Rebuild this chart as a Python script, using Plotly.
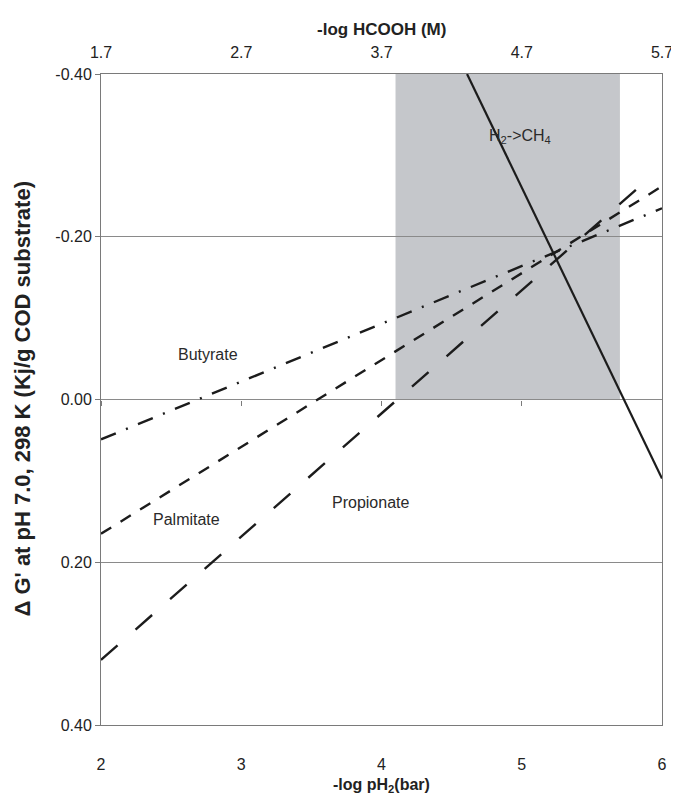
import plotly.graph_objects as go

# ---- data ----
x_h2ch4 = [4.61, 6.0]
y_h2ch4 = [-0.40, 0.097]

x_butyrate = [2.0, 6.0]
y_butyrate = [0.049, -0.235]

x_palmitate = [2.0, 6.0]
y_palmitate = [0.165, -0.262]

x_propionate = [2.0, 5.85]
y_propionate = [0.320, -0.263]

shade_x = [4.1, 5.7]
shade_y = [-0.40, 0.00]

bottom_ticks = [2, 3, 4, 5, 6]
top_ticks = [1.7, 2.7, 3.7, 4.7, 5.7]
top_ticktext = ["1.7", "2.7", "3.7", "4.7", "5.7"]
y_ticks = [-0.40, -0.20, 0.00, 0.20, 0.40]
y_ticktext = ["-0.40", "-0.20", "0.00", "0.20", "0.40"]

labels = ["H<sub>2</sub>->CH<sub>4</sub>", "Butyrate", "Palmitate", "Propionate"]
label_x = [4.99, 2.76, 2.61, 3.92]
label_y = [-0.323, -0.055, 0.148, 0.127]

FONT = "Liberation Sans, Arial, sans-serif"
LINE = "#1c1c1c"
AX = "#7a7a7a"

fig = go.Figure()

fig.add_trace(go.Scatter(x=x_butyrate, y=y_butyrate, mode="lines",
                         line=dict(color=LINE, width=2.4, dash="16px,11px,2px,11px"),
                         showlegend=False, hoverinfo="skip"))
fig.add_trace(go.Scatter(x=x_palmitate, y=y_palmitate, mode="lines",
                         line=dict(color=LINE, width=2.4, dash="12px,11px"),
                         showlegend=False, hoverinfo="skip"))
fig.add_trace(go.Scatter(x=x_propionate, y=y_propionate, mode="lines",
                         line=dict(color=LINE, width=2.4, dash="22px,24px"),
                         showlegend=False, hoverinfo="skip"))
fig.add_trace(go.Scatter(x=x_h2ch4, y=y_h2ch4, mode="lines",
                         line=dict(color=LINE, width=2.2),
                         showlegend=False, hoverinfo="skip"))
# empty traces to bring the top axis and the y=0 tick axis to life
fig.add_trace(go.Scatter(x=[], y=[], xaxis="x2", showlegend=False))
fig.add_trace(go.Scatter(x=[], y=[], xaxis="x3", showlegend=False))

fig.add_shape(type="rect", xref="x", yref="y",
              x0=shade_x[0], x1=shade_x[1], y0=shade_y[0], y1=shade_y[1],
              fillcolor="#c5c7cb", line=dict(width=0), layer="below")

for t, xx, yy in zip(labels, label_x, label_y):
    fig.add_annotation(x=xx, y=yy, xref="x", yref="y", text=t, showarrow=False,
                       xanchor="center", yanchor="middle",
                       font=dict(family=FONT, size=16, color="#2a2a2a"))

# axis titles
fig.add_annotation(x=0.5, y=1, xref="paper", yref="paper", yshift=45,
                   xanchor="center", yanchor="middle",
                   text="<b>-log HCOOH (M)</b>", showarrow=False,
                   font=dict(family=FONT, size=17, color="#222"))
fig.add_annotation(x=0.5, y=0, xref="paper", yref="paper", yshift=-60,
                   xanchor="center", yanchor="middle",
                   text="<b>-log pH<sub>2</sub>(bar)</b>", showarrow=False,
                   font=dict(family=FONT, size=16, color="#222"))
fig.add_annotation(x=0, y=0.5, xref="paper", yref="paper", xshift=-79,
                   xanchor="center", yanchor="middle",
                   text="<b>\u0394 G' at pH 7.0, 298 K (Kj/g COD substrate)</b>",
                   textangle=-90, showarrow=False,
                   font=dict(family=FONT, size=22, color="#222"))

fig.update_layout(
    width=671, height=787,
    margin=dict(l=93, r=17, t=66, b=70, autoexpand=False),
    paper_bgcolor="white", plot_bgcolor="white",
    font=dict(family=FONT, size=16, color="#222"),
    xaxis=dict(range=[2, 6], tickvals=bottom_ticks, ticks="", showgrid=False,
               zeroline=False, showline=True, linecolor=AX, linewidth=1,
               tickfont=dict(size=16), ticklabelstandoff=25, automargin=False),
    xaxis2=dict(range=[1.7, 5.7], overlaying="x", side="top", anchor="y",
                tickvals=top_ticks, ticktext=top_ticktext, ticks="",
                showgrid=False, zeroline=False, showline=True, linecolor=AX,
                tickfont=dict(size=16), ticklabelstandoff=9, automargin=False),
    xaxis3=dict(range=[2, 6], overlaying="x", anchor="free", position=0.5,
                tickvals=bottom_ticks, ticks="outside", ticklen=5, tickcolor=AX,
                showticklabels=False, showgrid=False, zeroline=False, showline=False,
                automargin=False),
    yaxis=dict(range=[0.40, -0.40], tickvals=y_ticks, ticktext=y_ticktext,
               ticks="outside", ticklen=5, tickcolor=AX,
               showgrid=True, gridcolor="#8a8a8a", gridwidth=1,
               zeroline=False, showline=True, linecolor=AX, mirror=True,
               tickfont=dict(size=16), automargin=False),
)

fig.write_html("out.html")
